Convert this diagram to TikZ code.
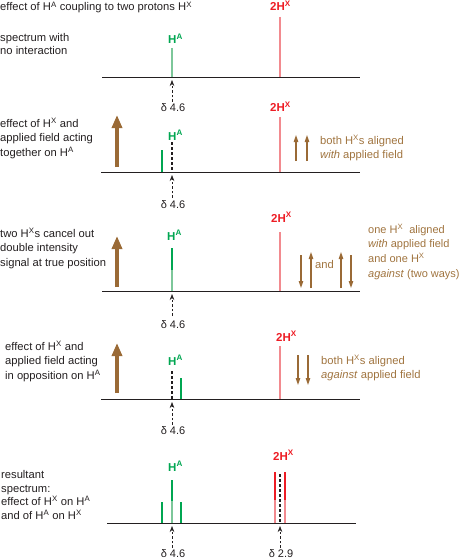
\documentclass[tikz,border=0pt]{standalone}
\usepackage{fontspec}
\setmainfont{Liberation Sans}
\usetikzlibrary{arrows.meta}
\definecolor{hagreen}{HTML}{00A651}
\definecolor{halight}{HTML}{7DC79A}
\definecolor{hxred}{HTML}{ED1C24}
\definecolor{hxlight}{HTML}{F28A8F}
\definecolor{fieldbrown}{HTML}{9A6A36}
\definecolor{txtbrown}{HTML}{A0743F}
\definecolor{ink}{HTML}{231F20}
\tikzset{
  txt/.style={anchor=base west, align=left, inner sep=0pt, text=ink, font=\fontsize{11.2}{14.3}\selectfont},
  btxt/.style={txt, text=txtbrown},
  lab/.style={anchor=base west, inner sep=0pt, font=\bfseries\fontsize{11.5}{13}\selectfont},
  alab/.style={lab, text=hagreen},
  xlab/.style={lab, text=hxred},
  dlab/.style={anchor=base, inner sep=0pt, text=ink, font=\fontsize{11}{13}\selectfont},
  axisline/.style={line width=0.9pt, ink},
  darr/.style={line width=0.6pt, ink, dash pattern=on 2.6pt off 2pt, -{Stealth[length=6pt,width=4.5pt]}},
  refline/.style={line width=2.4pt, ink, dash pattern=on 3pt off 2pt},
  bigarr/.style={line width=4pt, fieldbrown, -{Triangle[length=13pt,width=10pt]}},
  smarr/.style={line width=1.1pt, fieldbrown, -{Triangle[length=7pt,width=4.5pt]}},
}
\begin{document}
\begin{tikzpicture}[x=1pt,y=-1pt]
\useasboundingbox (0,0) rectangle (463,559);

% ---------- panel 1 ----------
\node[txt] (title) at (0,11) {effect of H\textsuperscript{A} coupling to two protons H\textsuperscript{X}};
\node[txt, font=\fontsize{11.2}{13}\selectfont] (t1) at (0,55) {spectrum with\\no interaction};
\draw[axisline] (102,77) -- (360,77);
\draw[halight, line width=1.2pt] (172,48) -- (172,77);
\draw[hxlight, line width=1.2pt] (280,17) -- (280,77);
\node[alab] (a1) at (168,44) {H\textsuperscript{A}};
\node[xlab] (x1) at (270,11) {2H\textsuperscript{X}};
\coordinate (p1) at (172,80);
\coordinate (q1) at (172,102);
\draw[darr] (q1) -- (p1);
\node[dlab] (d1) at (173,112) {δ 4.6};

% ---------- panel 2 ----------
\node[txt] (t2) at (0,156) {effect of H\textsuperscript{X} and\\applied field acting\\together on H\textsuperscript{A}};
\draw[axisline] (101,172) -- (360,172);
\draw[hagreen, line width=1.2pt] (162,150) -- (162,172);
\draw[refline] (172,142) -- (172,172);
\draw[hxlight, line width=1.2pt] (280,117) -- (280,172);
\node[alab] (a2) at (168,140) {H\textsuperscript{A}};
\node[xlab] (x2) at (270,112) {2H\textsuperscript{X}};
\draw[bigarr] (117,167) -- (117,115);
\draw[smarr] (296,161) -- (296,135);
\draw[smarr] (307,161) -- (307,135);
\node[btxt, font=\fontsize{11.2}{13.5}\selectfont] (r2) at (320,158) {both H\textsuperscript{X}s aligned\\\textit{with} applied field};
\coordinate (p2) at (172,175);
\coordinate (q2) at (172,198);
\draw[darr] (q2) -- (p2);
\node[dlab] (d2) at (173,208) {δ 4.6};

% ---------- panel 3 ----------
\node[txt] (t3) at (0,266) {two H\textsuperscript{X}s cancel out\\double intensity\\signal at true position};
\draw[axisline] (102,291) -- (360,291);
\draw[hagreen, line width=2pt] (172,248) -- (172,270);
\draw[halight, line width=2pt] (172,270) -- (172,291);
\draw[hxlight, line width=1.2pt] (280,232) -- (280,291);
\node[alab] (a3) at (167,240) {H\textsuperscript{A}};
\node[xlab] (x3) at (271,222) {2H\textsuperscript{X}};
\draw[bigarr] (117,287) -- (117,236);
\draw[smarr] (301,255) -- (301,288);
\draw[smarr] (311,288) -- (311,252);
\node[btxt] (and3) at (315,268) {and};
\draw[smarr] (341,288) -- (341,252);
\draw[smarr] (351,255) -- (351,288);
\node[btxt, font=\fontsize{11}{14.6}\selectfont] (r3) at (368,277) {one H\textsuperscript{X}\ \ aligned\\\textit{with} applied field\\and one H\textsuperscript{X}\\\textit{against} (two ways)};
\coordinate (p3) at (172,294);
\coordinate (q3) at (172,316);
\draw[darr] (q3) -- (p3);
\node[dlab] (d3) at (173,328) {δ 4.6};

% ---------- panel 4 ----------
\node[txt] (t4) at (5,379) {effect of H\textsuperscript{X} and\\applied field acting\\in opposition on H\textsuperscript{A}};
\draw[axisline] (101,399) -- (360,399);
\draw[refline] (172,371) -- (172,399);
\draw[hagreen, line width=1.2pt] (181,378) -- (181,399);
\draw[hxlight, line width=1.2pt] (280,346) -- (280,399);
\node[alab] (a4) at (168,365) {H\textsuperscript{A}};
\node[xlab] (x4) at (276,341) {2H\textsuperscript{X}};
\draw[bigarr] (117,393) -- (117,343);
\draw[smarr] (298,355) -- (298,385);
\draw[smarr] (308,355) -- (308,385);
\node[btxt, font=\fontsize{11.2}{13.5}\selectfont] (r4) at (321,378) {both H\textsuperscript{X}s aligned\\\textit{against} applied field};
\coordinate (p4) at (172,402);
\coordinate (q4) at (172,425);
\draw[darr] (q4) -- (p4);
\node[dlab] (d4) at (173,434) {δ 4.6};

% ---------- panel 5 ----------
\node[txt, font=\fontsize{11.2}{13.4}\selectfont] (t5) at (1,519) {resultant\\spectrum:\\effect of H\textsuperscript{X} on H\textsuperscript{A}\\and of H\textsuperscript{A} on H\textsuperscript{X}};
\draw[axisline] (107,523) -- (356,523);
\draw[hagreen, line width=1.2pt] (162,502) -- (162,523);
\draw[hagreen, line width=1.2pt] (181,502) -- (181,523);
\draw[hagreen, line width=2pt] (172,480) -- (172,501);
\draw[halight, line width=2pt] (172,501) -- (172,523);
\draw[hxred, line width=2pt] (275,472) -- (275,500);
\draw[hxlight, line width=2pt] (275,500) -- (275,523);
\draw[hxred, line width=2pt] (285,472) -- (285,500);
\draw[hxlight, line width=2pt] (285,500) -- (285,523);
\draw[refline] (280,474) -- (280,523);
\node[alab] (a5) at (168,471) {H\textsuperscript{A}};
\node[xlab] (x5) at (273,460) {2H\textsuperscript{X}};
\coordinate (p5) at (172,526);
\coordinate (q5) at (172,548);
\draw[darr] (q5) -- (p5);
\node[dlab] (d5) at (173,557) {δ 4.6};
\coordinate (p6) at (280,526);
\coordinate (q6) at (280,548);
\draw[darr] (q6) -- (p6);
\node[dlab] (d6) at (281,557) {δ 2.9};
\end{tikzpicture}
\end{document}
